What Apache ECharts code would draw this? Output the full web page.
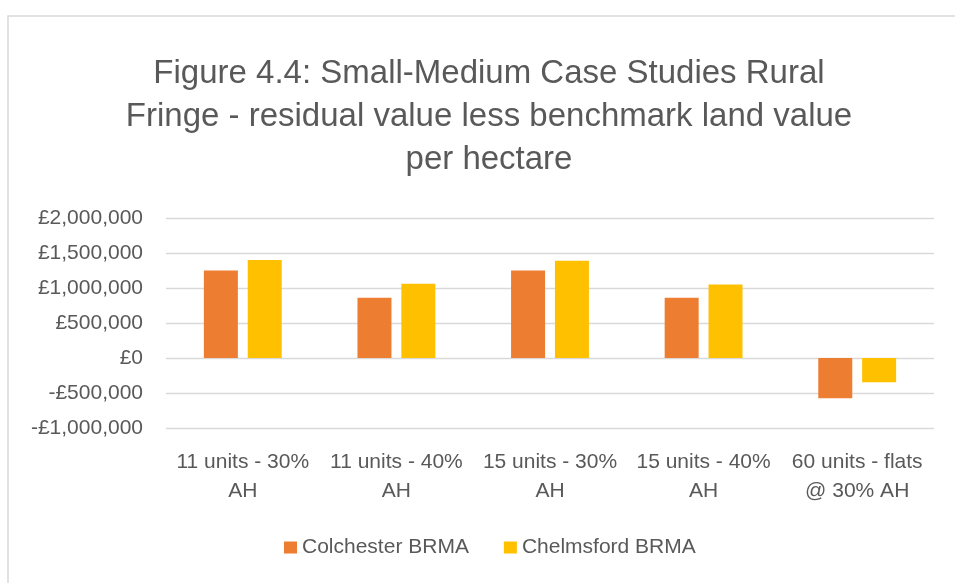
<!DOCTYPE html>
<html>
<head>
<meta charset="utf-8">
<script src="https://cdn.jsdelivr.net/npm/echarts@6/dist/echarts.min.js"></script>
<style>
  html, body { margin: 0; padding: 0; background: #fff; }
  #chart { width: 955px; height: 583px; }
</style>
</head>
<body>
<div id="chart"></div>
<script>
const categories = ['11 units - 30%\nAH', '11 units - 40%\nAH', '15 units - 30%\nAH', '15 units - 40%\nAH', '60 units - flats\n@ 30% AH'];
const colchester = [1250000, 860000, 1250000, 860000, -575000];
const chelmsford = [1400000, 1060000, 1390000, 1050000, -345000];
const seriesNames = ['Colchester BRMA', 'Chelmsford BRMA'];

const font = '"Liberation Sans", Arial, sans-serif';
const textColor = '#595959';

const chart = echarts.init(document.getElementById('chart'), null, { renderer: 'canvas' });

function money(v) {
  const s = '£' + Math.abs(v).toLocaleString('en-GB');
  return v < 0 ? '-' + s : s;
}

var option = {
  color: ['#ED7D31', '#FFC000'],
  animation: false,
  title: {
    text: 'Figure 4.4: Small-Medium Case Studies Rural\nFringe - residual value less benchmark land value\nper hectare',
    left: 484,
    textAlign: 'center',
    top: 47,
    textStyle: {
      fontFamily: font,
      fontSize: 33,
      fontWeight: 'normal',
      color: textColor,
      lineHeight: 43
    }
  },
  legend: {
    data: seriesNames,
    bottom: 20,
    left: 279,
    itemWidth: 13,
    itemHeight: 12,
    itemGap: 35,
    icon: 'rect',
    textStyle: { fontFamily: font, fontSize: 21, color: textColor }
  },
  grid: {
    left: 166,
    right: 21,
    top: 218,
    bottom: 155
  },
  xAxis: {
    type: 'category',
    data: categories,
    axisLine: { show: false },
    axisTick: { show: false },
    axisLabel: {
      fontFamily: font,
      fontSize: 21,
      color: textColor,
      lineHeight: 29,
      margin: 20,
      interval: 0
    }
  },
  yAxis: {
    type: 'value',
    min: -1000000,
    max: 2000000,
    interval: 500000,
    axisLine: { show: false },
    axisTick: { show: false },
    splitLine: { lineStyle: { color: '#d9d9d9', width: 1.3 } },
    axisLabel: {
      fontFamily: font,
      fontSize: 21,
      color: textColor,
      margin: 23,
      formatter: money
    }
  },
  series: [{
    name: seriesNames[0],
    type: 'bar',
    barWidth: 34,
    barGap: '29%',
    data: colchester
  }, {
    name: seriesNames[1],
    type: 'bar',
    barWidth: 34,
    barGap: '29%',
    data: chelmsford
  }],
  graphic: [{
    type: 'rect',
    shape: { x: 8, y: 16, width: 960, height: 600 },
    style: { fill: 'none', stroke: '#d9d9d9', lineWidth: 1.5 },
    silent: true
  }]
};

chart.setOption(option);
</script>
</body>
</html>
